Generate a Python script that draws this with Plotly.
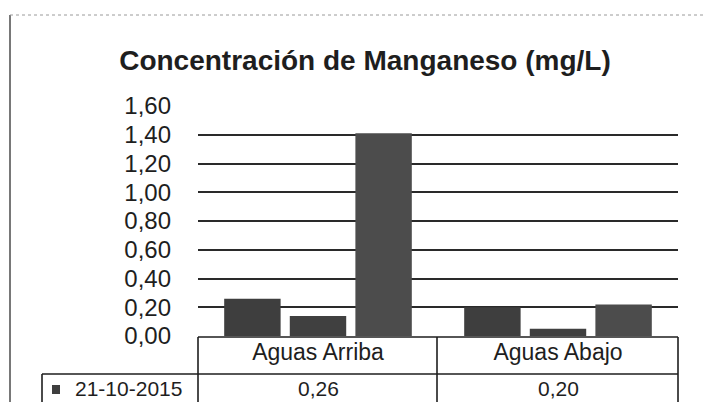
import plotly.graph_objects as go

# --- data -------------------------------------------------------------
categories = ["Aguas Arriba", "Aguas Abajo"]
series_names = ["21-10-2015", "Muestreo 2", "Muestreo 3"]
serie_1 = [0.26, 0.20]
serie_2 = [0.14, 0.05]
serie_3 = [1.41, 0.22]
y_ticks = [0.0, 0.2, 0.4, 0.6, 0.8, 1.0, 1.2, 1.4, 1.6]

series_values = [serie_1, serie_2, serie_3]
bar_colors = ["#3e3e3e", "#404040", "#4c4c4c"]

W, H = 706, 402
L, R, T, B = 198, 28, 106, 66
PW, PH = W - L - R, H - T - B

FONT = "Liberation Sans Narrow, Arial Narrow, Liberation Sans, Arial, sans-serif"
INK = "#1e1e1e"


def px(x):
    return (x - L) / PW


def py(y):
    return (H - B - y) / PH


fig = go.Figure()
for name, vals, col in zip(series_names, series_values, bar_colors):
    fig.add_trace(go.Bar(
        x=categories, y=vals, name=name,
        marker=dict(color=col, line=dict(width=0)),
        showlegend=False,
    ))

shapes = []


def line(x0, y0, x1, y1, color=INK, width=1.6, dash="solid"):
    shapes.append(dict(type="line", xref="paper", yref="paper",
                       x0=px(x0), y0=py(y0), x1=px(x1), y1=py(y1),
                       line=dict(color=color, width=width, dash=dash)))


# data table under the axis
line(198, 337, 678, 337)
line(42, 374, 678, 374)
line(198, 337, 198, 402)
line(437, 337, 437, 402)
line(678, 337, 678, 402)
line(42, 374, 42, 402)
# chart frame
line(10, 15, 10, 402, width=1.2)
line(10, 15, 706, 15, color="#9a9a9a", width=1, dash="dot")
# legend key in the table
shapes.append(dict(type="rect", xref="paper", yref="paper",
                   x0=px(52), x1=px(60), y0=py(394), y1=py(385),
                   fillcolor=bar_colors[0], line=dict(width=0)))

annotations = [dict(
    xref="paper", yref="paper", x=px(128), y=py(388),
    text=series_names[0], showarrow=False,
    font=dict(family=FONT, size=21, color=INK),
    xanchor="center", yanchor="middle")]
for i, v in enumerate(serie_1):
    annotations.append(dict(
        xref="paper", yref="paper", x=(i + 0.5) / len(categories), y=py(388),
        text=f"{v:.2f}".replace(".", ","), showarrow=False,
        font=dict(family=FONT, size=21, color=INK),
        xanchor="center", yanchor="middle"))

fig.update_layout(
    width=W, height=H,
    margin=dict(l=L, r=R, t=T, b=B, pad=0),
    paper_bgcolor="white", plot_bgcolor="white",
    separators=",.",
    barmode="group", bargap=0.18, bargroupgap=0.14,
    title=dict(text="Concentración de Manganeso (mg/L)",
               font=dict(family=FONT, size=28, color=INK, weight="bold"),
               x=365 / W, xanchor="center", y=1 - 60 / H, yanchor="middle"),
    xaxis=dict(showgrid=False, showline=False, ticks="",
               tickfont=dict(family=FONT, size=23, color=INK),
               ticklabelstandoff=0),
    yaxis=dict(range=[0, 1.6], tickvals=y_ticks, tickformat=".2f",
               showgrid=True, gridcolor="#2a2a2a", gridwidth=1.5,
               zeroline=False, showline=False, ticks="",
               tickfont=dict(family=FONT, size=24, color=INK),
               ticklabelstandoff=26),
    shapes=shapes,
    annotations=annotations,
)

fig.write_html("out.html")
